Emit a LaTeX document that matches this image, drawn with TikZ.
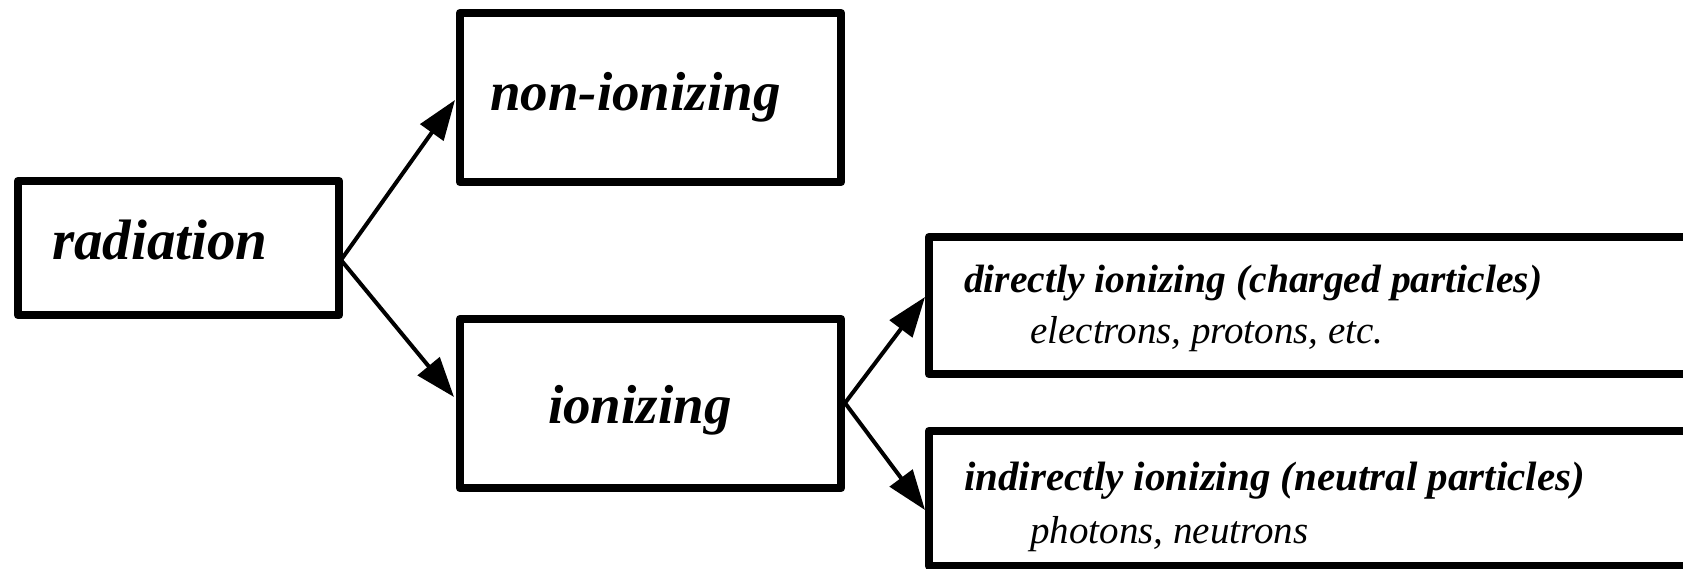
\documentclass[tikz,border=0pt]{standalone}
\usepackage{fontspec}
\setmainfont{Liberation Serif}
\usetikzlibrary{arrows.meta}
\begin{document}
\begin{tikzpicture}[x=1pt,y=-1pt,
  box/.style={draw=black,line width=8.5pt,rectangle,inner sep=0pt,outer sep=0pt,line join=round},
  bigtxt/.style={anchor=base west,inner sep=0pt,font=\fontsize{55}{60}\selectfont\bfseries\itshape},
  headtxt/.style={anchor=base west,inner sep=0pt,font=\fontsize{39.5}{42}\selectfont\bfseries\itshape},
  subtxt/.style={anchor=base west,inner sep=0pt,font=\fontsize{39}{42}\selectfont\itshape},
  conn/.style={line width=4pt,-{Triangle[length=40pt,width=28pt]}}
]
\useasboundingbox (0,0) rectangle (1683,569);
\clip (0,0) rectangle (1683,569);
\fill[white] (0,0) rectangle (1683,569);
% boxes
\node[box,minimum width=321pt,minimum height=134pt] (rad) at (178.5,248) {};
\node[box,minimum width=381pt,minimum height=169pt] (non) at (650.5,97.5) {};
\node[box,minimum width=381pt,minimum height=169pt] (ion) at (650.5,403.5) {};
\node[box,minimum width=800pt,minimum height=137pt] (dir) at (1329,305.5) {};
\node[box,minimum width=800pt,minimum height=135pt] (ind) at (1329,498.5) {};
% texts
\node[bigtxt,font=\fontsize{57}{60}\selectfont\bfseries\itshape] (radt) at (52,260) {radiation};
\node[bigtxt] (nont) at (490,111) {non-ionizing};
\node[bigtxt] (iont) at (548,423) {ionizing};
\node[headtxt] (dirt) at (964,292) {directly ionizing (charged particles)};
\node[subtxt] (dirs) at (1030,343) {electrons, protons, etc.};
\node[headtxt,font=\fontsize{41}{44}\selectfont\bfseries\itshape] (indt) at (964,490) {indirectly ionizing (neutral particles)};
\node[subtxt] (inds) at (1030,543) {photons, neutrons};
% connector points
\coordinate (radout) at (341,260);
\coordinate (nonin) at (455,100);
\coordinate (ionin) at (454,397);
\coordinate (ionout) at (845,403);
\coordinate (dirin) at (925,297);
\coordinate (indin) at (925,510);
\draw[conn] (radout) -- (nonin);
\draw[conn] (radout) -- (ionin);
\draw[conn] (ionout) -- (dirin);
\draw[conn] (ionout) -- (indin);
\end{tikzpicture}
\end{document}
